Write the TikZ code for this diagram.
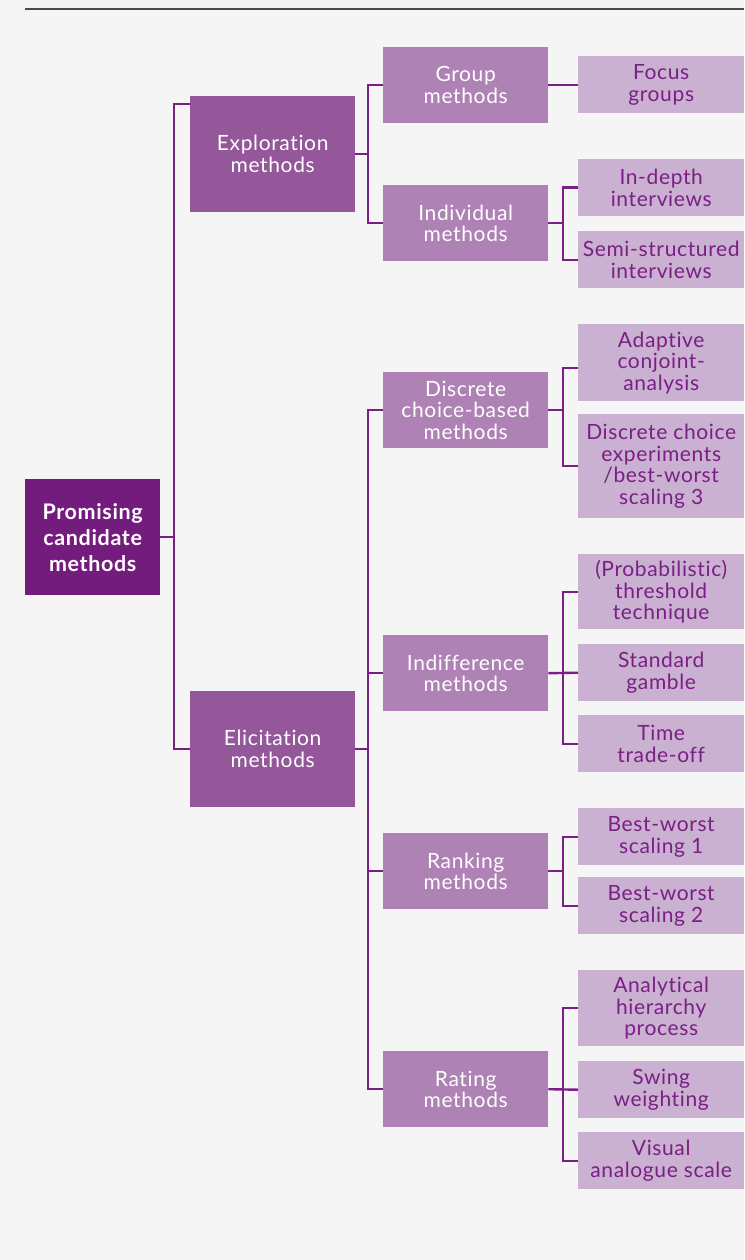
\documentclass[tikz,border=0pt]{standalone}
\usepackage{fontspec}
\setmainfont{Lato}[Ligatures={NoCommon}, LetterSpace=3]
\definecolor{bg}{HTML}{F5F5F5}
\definecolor{rootc}{HTML}{741C7D}
\definecolor{lvlone}{HTML}{93579A}
\definecolor{lvltwo}{HTML}{AE82B4}
\definecolor{lvlthree}{HTML}{CAB0D1}
\definecolor{txtp}{HTML}{7A1F84}
\definecolor{linec}{HTML}{7A1F84}
\definecolor{topline}{HTML}{4A4A4A}
\begin{document}
\begin{tikzpicture}[x=1pt,y=1pt,
  box/.style={inner sep=0pt, align=center, anchor=north west},
  rootbox/.style={box, fill=rootc, text=white, font=\fontsize{21.5}{26}\selectfont\bfseries, minimum width=135pt, minimum height=116pt},
  onebox/.style={box, fill=lvlone, text=white, font=\fontsize{21}{22}\selectfont, minimum width=165pt, minimum height=116pt},
  twobox/.style={box, fill=lvltwo, text=white, font=\fontsize{21}{21.5}\selectfont, minimum width=165pt, minimum height=76pt},
  threebox/.style={box, fill=lvlthree, text=txtp, font=\fontsize{21}{21.5}\selectfont, minimum width=166pt},
  conn/.style={draw=linec, line width=2.4pt, line join=miter}
]
\useasboundingbox (0,0) rectangle (744,-1260);
\fill[bg] (0,0) rectangle (744,-1260);
\draw[topline, line width=2pt] (25,-9) -- (744,-9);

% root
\node[rootbox] (root) at (25,-479) {Promising\\candidate\\methods};
% level 1
\node[onebox] (expl) at (190,-96) {Exploration\\methods};
\node[onebox] (elic) at (190,-691) {Elicitation\\methods};
% level 2
\node[twobox] (group) at (383,-47) {Group\\methods};
\node[twobox] (indiv) at (383,-185) {Individual\\methods};
\node[twobox] (discr) at (383,-372) {Discrete\\choice-based\\methods};
\node[twobox] (indiff) at (383,-635) {Indifference\\methods};
\node[twobox] (rank) at (383,-833) {Ranking\\methods};
\node[twobox] (rate) at (383,-1051) {Rating\\methods};
% level 3
\node[threebox, minimum height=57pt] (focus) at (578,-56) {Focus\\groups};
\node[threebox, minimum height=57pt] (indepth) at (578,-159) {In-depth\\interviews};
\node[threebox, minimum height=57pt] (semi) at (578,-231) {Semi-structured\\interviews};
\node[threebox, minimum height=77pt] (adapt) at (578,-324) {Adaptive\\conjoint-\\analysis};
\node[threebox, minimum height=104pt] (dce) at (578,-414) {Discrete choice\\experiments\\/best-worst\\scaling 3};
\node[threebox, minimum height=75pt] (prob) at (578,-554) {(Probabilistic)\\threshold\\technique};
\node[threebox, minimum height=57pt] (stdg) at (578,-644) {Standard\\gamble};
\node[threebox, minimum height=57pt] (tto) at (578,-715) {Time\\trade-off};
\node[threebox, minimum height=57pt] (bwa) at (578,-808) {Best-worst\\scaling 1};
\node[threebox, minimum height=57pt] (bwb) at (578,-877) {Best-worst\\scaling 2};
\node[threebox, minimum height=76pt] (ahp) at (578,-970) {Analytical\\hierarchy\\process};
\node[threebox, minimum height=57pt] (swing) at (578,-1061) {Swing\\weighting};
\node[threebox, minimum height=57pt] (vas) at (578,-1132) {Visual\\analogue scale};

% bus coordinates
\coordinate (b0) at (174,0);
\coordinate (b1) at (368,0);
\coordinate (b2) at (563,0);

% root -> level 1
\draw[conn] (root.east) -- (b0 |- root.east);
\draw[conn] ([yshift=-8pt]expl.north west) -| (b0 |- root.east) |- (elic.west);

% exploration -> level 2
\draw[conn] (expl.east) -- (b1 |- expl.east);
\draw[conn] (group.west) -| (b1 |- expl.east) |- (indiv.west);

% elicitation -> level 2
\draw[conn] (elic.east) -- (b1 |- elic.east);
\draw[conn] (discr.west) -| (b1 |- elic.east) |- (rate.west);
\draw[conn] (b1 |- indiff.west) -- (indiff.west);
\draw[conn] (b1 |- rank.west) -- (rank.west);

% level 2 -> level 3
\draw[conn] (group.east) -- (group.east -| focus.west);

\draw[conn] (indiv.east) -- (b2 |- indiv.east);
\draw[conn] (indepth.west) -| (b2 |- indiv.east) |- (semi.west);

\draw[conn] (discr.east) -- (b2 |- discr.east);
\draw[conn] ([yshift=-5pt]adapt.west) -| (b2 |- discr.east) |- (dce.west);

\draw[conn] (indiff.east) -- (stdg.west);
\draw[conn] (prob.west) -| (b2 |- indiff.east) |- (tto.west);

\draw[conn] (rank.east) -- (b2 |- rank.east);
\draw[conn] (bwa.west) -| (b2 |- rank.east) |- (bwb.west);

\draw[conn] (rate.east) -- (swing.west);
\draw[conn] (ahp.west) -| (b2 |- rate.east) |- (vas.west);
\end{tikzpicture}
\end{document}
